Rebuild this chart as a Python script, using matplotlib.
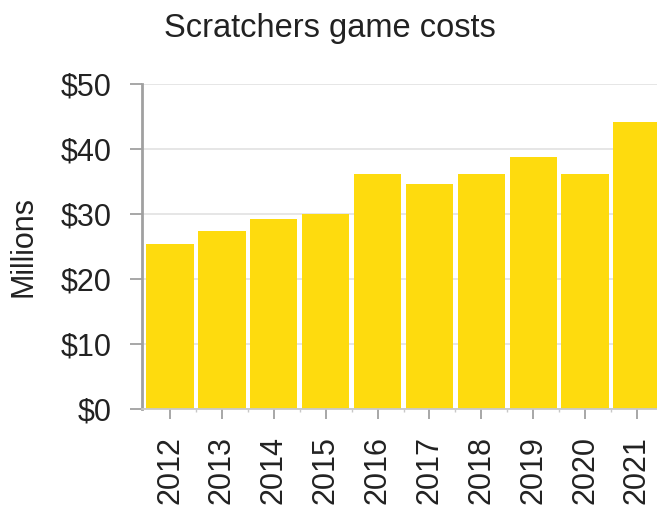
import matplotlib.pyplot as plt
import numpy as np

plt.rcParams['font.family'] = ['Liberation Sans', 'DejaVu Sans']

# data (millions of dollars)
years = ['2012', '2013', '2014', '2015', '2016', '2017', '2018', '2019', '2020', '2021']
costs = [25.4, 27.4, 29.2, 30.0, 36.2, 34.6, 36.2, 38.8, 36.2, 44.2]
y_ticks = [0, 10, 20, 30, 40, 50]
y_labels = ['$0', '$10', '$20', '$30', '$40', '$50']

bar_color = '#FEDB0E'
text_color = '#222222'
axis_color = '#A0A0A0'

fig = plt.figure(figsize=(6.57, 5.12), dpi=100)
# axes runs past the right edge, like the cropped original
ax = fig.add_axes([142 / 657, 103 / 512, 523 / 657, 325 / 512])

x = np.arange(len(years))
ax.bar(x, costs, width=0.91, color=bar_color, zorder=2)

ax.set_xlim(-0.54, len(years) - 0.46)
ax.set_ylim(0, 50)
ax.set_yticks(y_ticks)
ax.set_yticklabels(y_labels)
ax.set_xticks(x)
ax.set_xticklabels(years, rotation=90)
ax.set_xticks(x[:-1] + 0.5, minor=True)

ax.grid(True, axis='y', color='#E4E4E4', linewidth=1.3, zorder=0)
ax.set_axisbelow(True)

for side in ['top', 'right']:
    ax.spines[side].set_visible(False)
ax.spines['left'].set_color(axis_color)
ax.spines['left'].set_linewidth(2)
ax.spines['bottom'].set_color('#C8C8C8')
ax.spines['bottom'].set_linewidth(1.3)

ax.tick_params(axis='y', length=8.5, width=1.3, color=axis_color, pad=13.5,
               labelsize=22, labelcolor=text_color)
ax.tick_params(axis='x', which='major', length=7, width=1.3, color=axis_color, pad=12.5,
               labelsize=22, labelcolor=text_color)
ax.tick_params(axis='x', which='minor', length=2.5, width=1, color='#C8C8C8')

ax.set_ylabel('Millions', fontsize=22, color=text_color, labelpad=16)

fig.text(330 / 657, 1 - 37 / 512, 'Scratchers game costs', ha='center', va='baseline',
         fontsize=23.5, color=text_color)

fig.savefig('out.png', dpi=100)
